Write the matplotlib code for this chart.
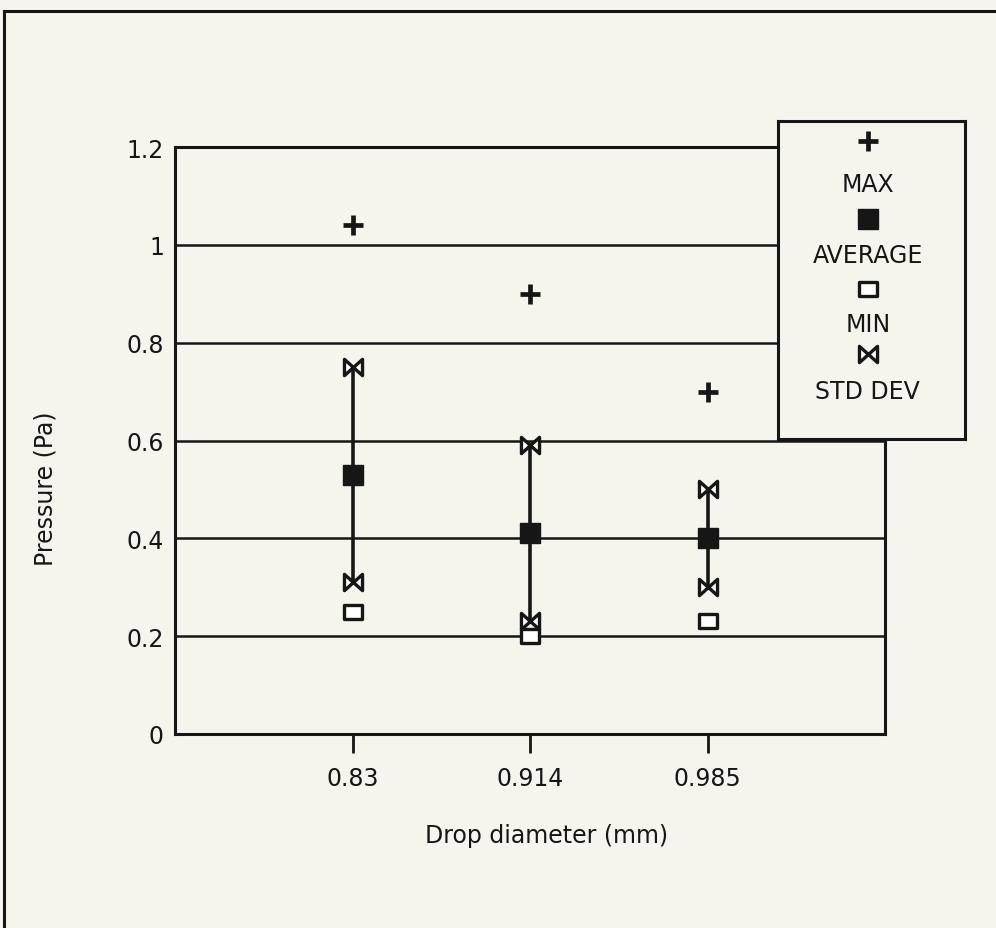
import matplotlib
matplotlib.use("Agg")
import matplotlib.pyplot as plt
from matplotlib.path import Path
from matplotlib.patches import Rectangle

# Data
diameters = ["0.83", "0.914", "0.985"]
p_max = [1.04, 0.90, 0.70]
p_avg = [0.53, 0.41, 0.40]
p_min = [0.25, 0.20, 0.23]
p_std = [0.22, 0.18, 0.10]
y_ticks = [0, 0.2, 0.4, 0.6, 0.8, 1.0, 1.2]
y_tick_labels = ["0", "0.2", "0.4", "0.6", "0.8", "1", "1.2"]
legend_labels = ["MAX", "AVERAGE", "MIN", "STD DEV"]

plt.rcParams["font.family"] = ["DejaVu Sans"]

bg = "#f5f5ee"
ink = "#161616"

# bow-tie marker (two triangles meeting at the centre)
bowtie = Path([(-1, -0.9), (-1, 0.9), (0, 0), (1, 0.9), (1, -0.9), (0, 0), (-1, -0.9)],
              [Path.MOVETO, Path.LINETO, Path.LINETO, Path.LINETO, Path.LINETO,
               Path.LINETO, Path.CLOSEPOLY])
# wide hollow square
wide_sq = Path([(-1, -0.75), (1, -0.75), (1, 0.75), (-1, 0.75), (-1, -0.75)],
               [Path.MOVETO, Path.LINETO, Path.LINETO, Path.LINETO, Path.CLOSEPOLY])

fig = plt.figure(figsize=(9.96, 9.29), dpi=100, facecolor=bg)

# outer frame
fig.add_artist(Rectangle((4 / 996, -0.2), 1.2, (929 - 12) / 929 + 0.2,
                         transform=fig.transFigure, fill=False, lw=2.2,
                         edgecolor=ink, zorder=0))

ax = fig.add_axes([175 / 996, (929 - 735) / 929, 710 / 996, 587 / 929])
ax.set_facecolor(bg)
x = [1, 2, 3]
ax.set_xlim(0, 4)
ax.set_ylim(0, 1.2)

for y in y_ticks[1:-1]:
    ax.axhline(y, color=ink, lw=1.8, zorder=1)

upper = [a + s for a, s in zip(p_avg, p_std)]
lower = [a - s for a, s in zip(p_avg, p_std)]
ax.vlines(x, lower, upper, color=ink, lw=2.6, zorder=2)
ax.plot(x, upper, ls="none", marker=bowtie, ms=13, mfc="white", mec=ink, mew=2.4, zorder=3)
ax.plot(x, lower, ls="none", marker=bowtie, ms=13, mfc="white", mec=ink, mew=2.4, zorder=3)
ax.plot(x, p_max, ls="none", marker="+", ms=14, mew=3.4, color=ink, zorder=3)
ax.plot(x, p_avg, ls="none", marker="s", ms=14, mfc=ink, mec=ink, zorder=4)
ax.plot(x, p_min, ls="none", marker=wide_sq, ms=13, mfc="white", mec=ink, mew=2.4, zorder=3)

ax.set_xticks(x)
ax.set_xticklabels(diameters)
ax.set_yticks(y_ticks)
ax.set_yticklabels(y_tick_labels)
ax.tick_params(axis="x", length=14, width=2, direction="out", color=ink,
               labelsize=17, pad=9, labelcolor=ink)
ax.tick_params(axis="y", length=0, labelsize=17, pad=8, labelcolor=ink)
for sp in ax.spines.values():
    sp.set_linewidth(2.2)
    sp.set_color(ink)

ax.set_xlabel("Drop diameter (mm)", fontsize=17, color=ink)
ax.set_ylabel("Pressure (Pa)", fontsize=17, color=ink)
ax.xaxis.set_label_coords(0.523, -0.152)
ax.yaxis.set_label_coords(-0.166, 0.42)

# legend panel: marker above each label
lg = fig.add_axes([778 / 996, (929 - 440) / 929, 187 / 996, 318 / 929], zorder=5)
lg.set_facecolor(bg)
lg.set_xlim(0, 1)
lg.set_ylim(318, 0)
lg.set_xticks([])
lg.set_yticks([])
for sp in lg.spines.values():
    sp.set_linewidth(2.2)
    sp.set_color(ink)
cx = 0.48
lg.plot([cx], [20], marker="+", ms=14, mew=3.4, color=ink)
lg.plot([cx], [98], marker="s", ms=14, mfc=ink, mec=ink)
lg.plot([cx], [168], marker=wide_sq, ms=13, mfc="white", mec=ink, mew=2.4)
lg.plot([cx], [233], marker=bowtie, ms=13, mfc="white", mec=ink, mew=2.4)
for lab, yy in zip(legend_labels, [63, 134, 203, 270]):
    lg.text(cx, yy, lab, ha="center", va="center", fontsize=17, color=ink)

fig.savefig("out.png", dpi=100, facecolor=bg)
